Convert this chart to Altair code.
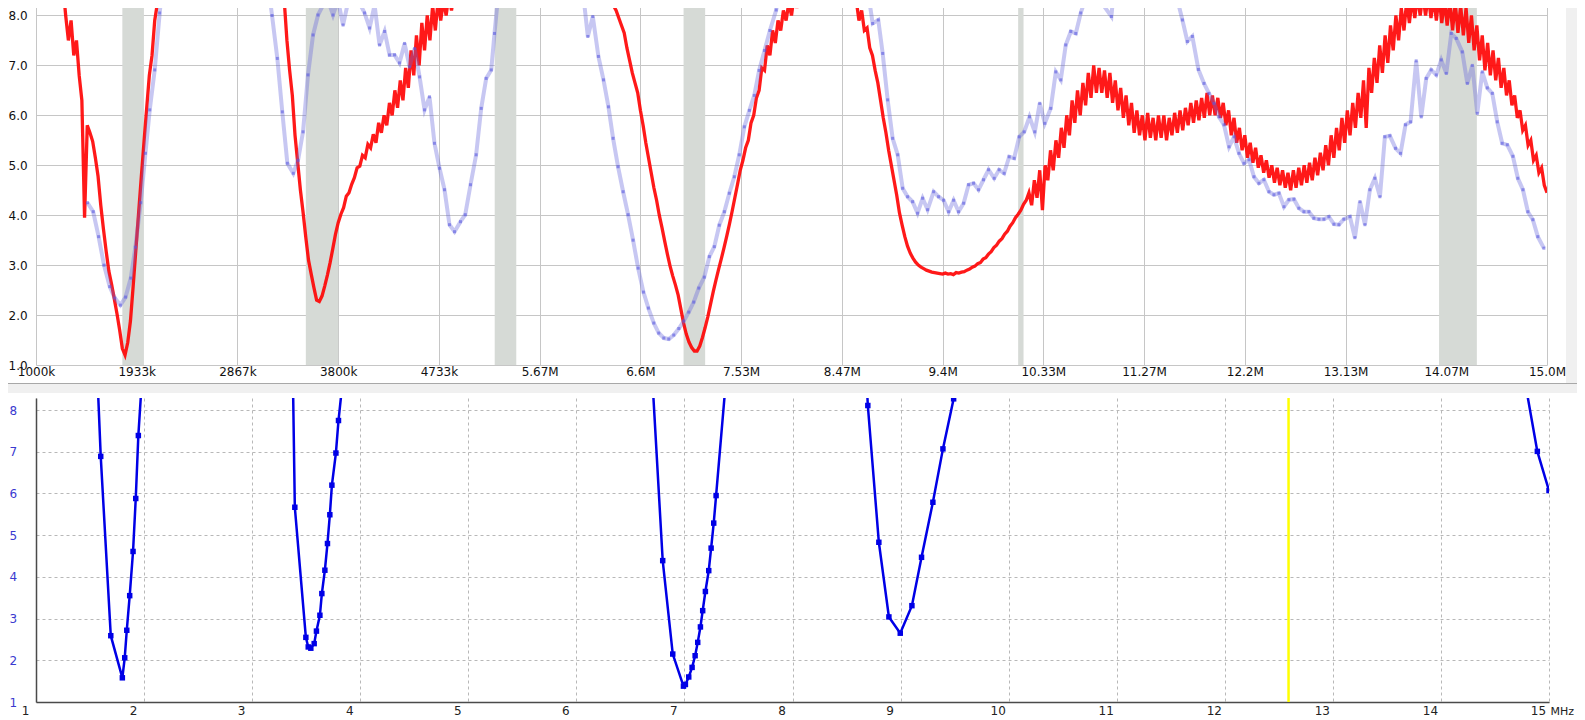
import altair as alt
import pandas as pd

# ---------------- data ----------------
top_tick_mhz = [1.0, 1.9333, 2.8667, 3.8, 4.7333, 5.6667, 6.6, 7.5333, 8.4667,
                9.4, 10.3333, 11.2667, 12.2, 13.1333, 14.0667, 15.0]
top_tick_labels = ["1000k", "1933k", "2867k", "3800k", "4733k", "5.67M", "6.6M",
                   "7.53M", "8.47M", "9.4M", "10.33M", "11.27M", "12.2M",
                   "13.13M", "14.07M", "15.0M"]
top_swr_ticks = [1, 2, 3, 4, 5, 6, 7, 8]
bot_mhz_ticks = [1, 2, 3, 4, 5, 6, 7, 8, 9, 10, 11, 12, 13, 14, 15]
bot_swr_ticks = [1, 2, 3, 4, 5, 6, 7, 8]

band_lo = [1.8, 3.5, 5.25, 7.0, 10.1, 14.0]
band_hi = [2.0, 3.8, 5.45, 7.2, 10.15, 14.35]

# red sweep (uniform 25 kHz steps), four visible stretches
red_step = 0.025
red_a_start = 1.25
red_a = [8.6, 8.0, 7.5, 7.9, 7.2, 7.5, 6.8, 6.3, 3.95, 5.8,
         5.65, 5.48, 5.15, 4.78, 4.2, 3.72, 3.28, 2.88, 2.62, 2.33,
         2.03, 1.7, 1.33, 1.2, 1.45, 1.88, 2.57, 3.3, 4.02, 4.75,
         5.45, 6.13, 6.8, 7.2, 7.9, 8.25, 8.6]
red_b_start = 3.275
red_b = [8.6, 8.3, 7.5, 6.9, 6.4, 5.6, 5.05, 4.5, 4.05, 3.55,
         3.1, 2.82, 2.55, 2.3, 2.27, 2.38, 2.58, 2.8, 3.05, 3.33,
         3.62, 3.85, 4.02, 4.15, 4.38, 4.45, 4.62, 4.75, 4.95, 4.98,
         5.2, 5.15, 5.42, 5.35, 5.62, 5.45, 5.85, 5.65, 6.0, 5.8,
         6.25, 6.0, 6.5, 6.15, 6.7, 6.3, 6.95, 6.55, 7.3, 6.8,
         7.6, 7.0, 7.85, 7.3, 8.0, 7.5, 8.2, 7.7, 8.3, 7.9,
         8.3, 8.0, 8.4, 8.1, 8.5, 8.2, 8.6]
red_c_start = 6.3
red_c = [8.6, 8.35, 8.2, 8.1, 7.95, 7.8, 7.65, 7.35, 7.1, 6.85,
         6.65, 6.45, 6.1, 5.8, 5.45, 5.15, 4.85, 4.55, 4.3, 4.0,
         3.75, 3.48, 3.22, 2.98, 2.78, 2.6, 2.4, 2.12, 1.84, 1.62,
         1.46, 1.35, 1.28, 1.28, 1.38, 1.55, 1.75, 1.97, 2.22, 2.47,
         2.7, 2.92, 3.13, 3.35, 3.58, 3.82, 4.08, 4.35, 4.62, 4.9,
         5.1, 5.35, 5.5, 5.85, 6.0, 6.35, 6.5, 6.95, 6.9, 7.4,
         7.2, 7.7, 7.45, 7.9, 7.7, 8.1, 7.9, 8.25, 8.0, 8.4,
         8.15, 8.6]
red_d_start = 8.575
red_d = [8.6, 8.3, 7.9, 8.1, 7.7, 7.75, 7.35, 7.2, 6.9, 6.65,
         6.3, 5.95, 5.65, 5.3, 5.0, 4.7, 4.4, 4.05, 3.8, 3.57,
         3.38, 3.24, 3.14, 3.06, 3.0, 2.96, 2.93, 2.9, 2.88, 2.86,
         2.85, 2.84, 2.83, 2.82, 2.84, 2.82, 2.83, 2.81, 2.85, 2.84,
         2.86, 2.87, 2.9, 2.92, 2.96, 2.98, 3.03, 3.05, 3.12, 3.15,
         3.22, 3.27, 3.35, 3.4, 3.48, 3.53, 3.62, 3.68, 3.78, 3.85,
         3.95, 4.02, 4.1, 4.22, 4.3, 4.45, 4.2, 4.7, 4.35, 4.9,
         4.1, 5.0, 4.7, 5.3, 4.9, 5.5, 5.15, 5.75, 5.35, 6.0,
         5.6, 6.3, 5.85, 6.5, 6.0, 6.65, 6.2, 6.85, 6.35, 7.0,
         6.45, 6.95, 6.45, 6.9, 6.35, 6.85, 6.25, 6.7, 6.1, 6.55,
         5.95, 6.4, 5.8, 6.25, 5.65, 6.1, 5.6, 6.0, 5.5, 6.05,
         5.55, 5.95, 5.5, 6.0, 5.55, 6.0, 5.5, 5.95, 5.6, 6.05,
         5.65, 6.1, 5.7, 6.15, 5.8, 6.25, 5.85, 6.3, 5.9, 6.35,
         5.95, 6.45, 6.0, 6.4, 6.0, 6.35, 5.95, 6.25, 5.8, 6.1,
         5.6, 5.95, 5.45, 5.75, 5.3, 5.6, 5.15, 5.45, 5.05, 5.35,
         4.95, 5.2, 4.85, 5.1, 4.75, 5.0, 4.65, 4.95, 4.6, 4.9,
         4.55, 4.85, 4.5, 4.9, 4.55, 4.95, 4.6, 5.0, 4.65, 5.05,
         4.7, 5.15, 4.8, 5.25, 4.9, 5.4, 5.0, 5.6, 5.15, 5.75,
         5.3, 5.95, 5.45, 6.1, 5.6, 6.25, 5.75, 6.45, 5.95, 6.7,
         5.75, 6.95, 6.45, 7.15, 6.65, 7.4, 6.85, 7.6, 7.05, 7.8,
         7.3, 8.0, 7.5, 8.15, 7.7, 8.3, 7.85, 8.35, 7.95, 8.4,
         8.0, 8.4, 8.0, 8.4, 7.95, 8.35, 7.9, 8.4, 7.85, 8.3,
         7.8, 8.3, 7.7, 8.25, 7.65, 8.2, 7.6, 8.15, 7.45, 8.0,
         7.3, 7.8, 7.1, 7.6, 6.9, 7.45, 6.8, 7.3, 6.7, 7.15,
         6.55, 6.95, 6.4, 6.7, 6.2, 6.4, 5.95, 6.1, 5.7, 5.8,
         5.4, 5.5, 5.1, 5.2, 4.85, 4.95, 4.6, 4.45]

# light-blue reference sweep (top panel), (MHz, SWR)
blue_top_1 = [(1.477, 4.25), (1.53, 4.07), (1.58, 3.57), (1.63, 3.0), (1.683, 2.57),
              (1.73, 2.34), (1.782, 2.2), (1.83, 2.36), (1.878, 2.74), (1.921, 3.36),
              (1.97, 4.25), (2.014, 5.24), (2.054, 6.11), (2.1, 6.91), (2.146, 8.05),
              (2.19, 9.0)]
blue_top_2 = [(3.14, 8.8), (3.187, 8.0), (3.236, 7.14), (3.282, 6.07), (3.329, 5.04),
              (3.384, 4.84), (3.428, 5.1), (3.474, 5.67), (3.52, 6.81), (3.567, 7.61),
              (3.613, 8.01), (3.66, 8.21), (3.705, 8.31), (3.752, 8.01), (3.798, 8.31),
              (3.845, 7.81), (3.9, 8.35), (3.952, 8.24), (3.998, 8.25), (4.044, 8.05),
              (4.091, 7.75), (4.137, 8.21), (4.183, 7.41), (4.23, 7.68), (4.276, 7.21),
              (4.322, 7.21), (4.368, 7.05), (4.415, 7.44), (4.461, 6.97), (4.508, 7.34),
              (4.554, 6.77), (4.6, 6.11), (4.646, 6.37), (4.692, 5.44), (4.739, 4.94),
              (4.785, 4.51), (4.831, 3.81), (4.878, 3.67), (4.933, 3.87), (4.977, 4.01),
              (5.026, 4.61), (5.078, 5.21), (5.125, 6.14), (5.171, 6.74), (5.218, 6.91),
              (5.248, 7.64), (5.30, 8.8)]
blue_top_3 = [(6.05, 8.9), (6.076, 8.31), (6.113, 7.58), (6.159, 7.98), (6.211, 7.18),
              (6.258, 6.71), (6.304, 6.17), (6.347, 5.54), (6.393, 4.97), (6.44, 4.47),
              (6.486, 4.01), (6.532, 3.5), (6.579, 2.94), (6.628, 2.46), (6.674, 2.14),
              (6.724, 1.84), (6.77, 1.64), (6.817, 1.54), (6.863, 1.52), (6.909, 1.6),
              (6.956, 1.73), (7.002, 1.88), (7.048, 2.06), (7.094, 2.26), (7.141, 2.54),
              (7.192, 2.76), (7.239, 3.17), (7.285, 3.37), (7.331, 3.8), (7.378, 4.07),
              (7.424, 4.44), (7.47, 4.77), (7.516, 5.21), (7.563, 5.77), (7.61, 6.1),
              (7.655, 6.4), (7.70, 6.9), (7.75, 7.3), (7.80, 7.7), (7.858, 8.11),
              (7.90, 8.6)]
blue_top_4 = [(8.70, 8.8), (8.72, 8.31), (8.752, 7.84), (8.804, 7.91), (8.845, 7.24),
              (8.891, 6.31), (8.937, 5.54), (8.984, 5.21), (9.03, 4.54), (9.076, 4.37),
              (9.122, 4.27), (9.168, 4.04), (9.215, 4.34), (9.261, 4.11), (9.317, 4.47),
              (9.363, 4.37), (9.409, 4.3), (9.456, 4.07), (9.502, 4.3), (9.548, 4.07),
              (9.595, 4.24), (9.641, 4.61), (9.687, 4.64), (9.733, 4.51), (9.779, 4.71),
              (9.826, 4.91), (9.878, 4.74), (9.924, 4.91), (9.97, 4.84), (10.017, 5.17),
              (10.063, 5.14), (10.11, 5.57), (10.156, 5.67), (10.205, 5.97), (10.254, 5.67),
              (10.3, 6.24), (10.347, 5.84), (10.402, 6.14), (10.449, 6.87), (10.495, 6.71),
              (10.541, 7.41), (10.588, 7.68), (10.634, 7.64), (10.68, 8.05), (10.726, 8.35),
              (10.773, 8.28), (10.82, 8.35), (10.865, 8.28), (10.964, 7.98), (10.99, 8.6)]
blue_top_5 = [(11.55, 8.8), (11.576, 8.31), (11.622, 7.91), (11.668, 7.48), (11.714, 7.58),
              (11.77, 6.92), (11.822, 6.64), (11.868, 6.44), (11.915, 6.24), (11.961, 5.97),
              (12.007, 5.81), (12.054, 5.37), (12.1, 5.57), (12.146, 5.24), (12.192, 5.04),
              (12.239, 5.11), (12.285, 4.77), (12.331, 4.64), (12.377, 4.71), (12.424, 4.47),
              (12.47, 4.41), (12.516, 4.44), (12.563, 4.17), (12.609, 4.31), (12.655, 4.32),
              (12.701, 4.14), (12.748, 4.07), (12.794, 4.07), (12.84, 3.94), (12.887, 3.92),
              (12.933, 3.92), (12.979, 3.97), (13.026, 3.82), (13.072, 3.81), (13.118, 3.92),
              (13.174, 3.97), (13.22, 3.55), (13.267, 4.27), (13.313, 3.81), (13.359, 4.51),
              (13.405, 4.74), (13.452, 4.37), (13.498, 5.57), (13.544, 5.59), (13.597, 5.34),
              (13.643, 5.24), (13.689, 5.81), (13.736, 5.87), (13.788, 7.09), (13.835, 5.97),
              (13.881, 6.74), (13.927, 6.91), (13.974, 6.81), (14.02, 7.11), (14.067, 6.84),
              (14.113, 7.64), (14.159, 7.54), (14.215, 7.27), (14.262, 6.64), (14.308, 7.0),
              (14.354, 6.04), (14.4, 6.87), (14.447, 6.55), (14.493, 6.44), (14.539, 5.87),
              (14.585, 5.44), (14.632, 5.41), (14.684, 5.18), (14.73, 4.74), (14.777, 4.51),
              (14.823, 4.07), (14.869, 3.91), (14.915, 3.57), (14.971, 3.34)]

# bottom panel analyser sweep (MHz, SWR)
bot_seg_1 = [(1.55, 9.94), (1.599, 6.89), (1.692, 2.59), (1.799, 1.58), (1.821, 2.06),
             (1.840, 2.72), (1.867, 3.55), (1.898, 4.61), (1.923, 5.88), (1.947, 7.39),
             (2.0, 9.54)]
bot_seg_2 = [(3.37, 10.0), (3.395, 5.67), (3.497, 2.55), (3.519, 2.32), (3.543, 2.29),
             (3.574, 2.40), (3.595, 2.70), (3.627, 3.08), (3.645, 3.60), (3.673, 4.16),
             (3.697, 4.80), (3.719, 5.49), (3.738, 6.20), (3.775, 6.97), (3.799, 7.75),
             (3.85, 9.0)]
bot_seg_3 = [(6.69, 9.35), (6.799, 4.39), (6.892, 2.15), (6.991, 1.38), (7.009, 1.42),
             (7.040, 1.60), (7.071, 1.83), (7.099, 2.11), (7.123, 2.43), (7.148, 2.80),
             (7.169, 3.19), (7.194, 3.65), (7.225, 4.15), (7.247, 4.69), (7.271, 5.29),
             (7.293, 5.95), (7.40, 9.2)]
bot_seg_4 = [(8.68, 9.0), (8.697, 8.11), (8.799, 4.83), (8.892, 3.04), (8.997, 2.65),
             (9.105, 3.31), (9.194, 4.47), (9.299, 5.79), (9.392, 7.07), (9.491, 8.27),
             (9.52, 9.0)]
bot_seg_5 = [(14.78, 8.65), (14.892, 7.01), (15.0, 6.07)]
marker_mhz = [12.59]

# ---------------- tables ----------------
red_rows = []
for seg, (start, vals) in enumerate([(red_a_start, red_a), (red_b_start, red_b),
                                     (red_c_start, red_c), (red_d_start, red_d)]):
    for i, v in enumerate(vals):
        red_rows.append({"f": round(start + i * red_step, 4), "v": v, "seg": seg})
red_df = pd.DataFrame(red_rows)


def pairs_df(segments):
    rows = []
    for seg, pts in enumerate(segments):
        for f, v in pts:
            rows.append({"f": f, "v": v, "seg": seg})
    return pd.DataFrame(rows)


blue_top_df = pairs_df([blue_top_1, blue_top_2, blue_top_3, blue_top_4, blue_top_5])
bot_df = pairs_df([bot_seg_1, bot_seg_2, bot_seg_3, bot_seg_4, bot_seg_5])
bands_df = pd.DataFrame({"f": band_lo, "f2": band_hi})
marker_df = pd.DataFrame({"f": marker_mhz})

# window chrome (panel separator / frame), in data units of each panel
top_decor = pd.DataFrame({
    "f": [0.6665, 0.6665, 15.176],
    "f2": [15.352, 15.352, 15.352],
    "v": [0.6395, 0.6195, 8.31],
    "v2": [0.6195, 0.4392, 0.6395],
    "c": ["#a8a8a8", "#f0f0f0", "#f0f0f0"],
})
bot_decor = pd.DataFrame({
    "f": [0.6669, 0.6669],
    "f2": [15.333, 15.333],
    "v": [0.6163, 0.5683],
    "v2": [0.5683, 0.4964],
    "c": ["#b4b4b4", "#f0f0f0"],
})

# ---------------- top panel ----------------
FONT = "DejaVu Sans"
xt = alt.Scale(domain=[1, 15], nice=False, zero=False)
yt = alt.Scale(domain=[1, 8.31], nice=False, zero=False)
label_expr = ("[" + ",".join("'%s'" % s for s in top_tick_labels) +
              "][round((datum.value - 1) * 15 / 14)]")
top_xaxis = alt.Axis(values=top_tick_mhz, labelExpr=label_expr, title=None, grid=True,
                     gridColor="#c6c6c6", ticks=False, domain=False, labelFlush=False,
                     labelOverlap=False, labelPadding=1, labelFont=FONT, labelFontSize=12,
                     labelColor="#111111", minExtent=14, maxExtent=14)
top_yaxis = alt.Axis(values=top_swr_ticks, format=".1f", title=None, grid=True,
                     gridColor="#c6c6c6", ticks=False, domain=False, labelAlign="left",
                     labelPadding=28, labelFont=FONT, labelFontSize=12, labelColor="#111111",
                     labelOverlap=False, minExtent=36, maxExtent=36)


def XT(field):
    return alt.X(field, type="quantitative", scale=xt, axis=top_xaxis)


def YT(field):
    return alt.Y(field, type="quantitative", scale=yt, axis=top_yaxis)


t_decor = alt.Chart(top_decor).mark_rect(clip=False).encode(
    x=XT("f"), x2="f2", y=YT("v"), y2="v2", color=alt.Color("c:N", scale=None))
t_bands = alt.Chart(bands_df).mark_rect(color="#d6dad6").encode(x=XT("f"), x2="f2")
t_red = alt.Chart(red_df).mark_line(color="#ff0000", strokeWidth=3.3, opacity=0.9,
                                    clip=True).encode(x=XT("f"), y=YT("v"), detail="seg:N")
t_blue = alt.Chart(blue_top_df).mark_line(color="#6464dc", strokeWidth=4, opacity=0.36,
                                          clip=True).encode(x=XT("f"), y=YT("v"), detail="seg:N")
t_blue_pts = alt.Chart(blue_top_df).mark_square(size=9, color="#5a5ae0", opacity=0.6,
                                                clip=True).encode(x=XT("f"), y=YT("v"))

top = alt.layer(t_decor, t_bands, t_red, t_blue, t_blue_pts).properties(width=1511, height=365)

# ---------------- bottom panel ----------------
xb = alt.Scale(domain=[1, 15], nice=False, zero=False)
yb = alt.Scale(domain=[1, 8.29], nice=False, zero=False)
bot_xaxis = alt.Axis(values=bot_mhz_ticks, format="d", title="MHz", grid=True,
                     gridColor="#b8b8b8", gridDash=[3, 3], ticks=False, domain=True,
                     domainColor="#4a4a4a", domainWidth=1.5, labelOffset=-11, labelPadding=3,
                     labelFlush=False, labelOverlap=False, labelFont=FONT, labelFontSize=12,
                     labelColor="#222222", titleX=1514, titleY=3, titleAlign="left",
                     titleBaseline="top", titleFont=FONT, titleFontSize=11,
                     titleFontWeight="normal", titleColor="#222222")
bot_yaxis = alt.Axis(values=bot_swr_ticks, format="d", title=None, grid=True,
                     gridColor="#b8b8b8", gridDash=[3, 3], ticks=False, domain=True,
                     domainColor="#4a4a4a", domainWidth=1.5, labelAlign="left",
                     labelPadding=27, labelFont=FONT, labelFontSize=12, labelColor="#3a3ad0",
                     labelOverlap=False, minExtent=36, maxExtent=36)


def XB(field):
    return alt.X(field, type="quantitative", scale=xb, axis=bot_xaxis)


def YB(field):
    return alt.Y(field, type="quantitative", scale=yb, axis=bot_yaxis)


b_decor = alt.Chart(bot_decor).mark_rect(clip=False).encode(
    x=XB("f"), x2="f2", y=YB("v"), y2="v2", color=alt.Color("c:N", scale=None))
b_marker = alt.Chart(marker_df).mark_rule(color="#ffff00", strokeWidth=2.5).encode(x=XB("f"))
b_line = alt.Chart(bot_df).mark_line(color="#0000e6", strokeWidth=2.5, clip=True).encode(
    x=XB("f"), y=YB("v"), detail="seg:N")
b_pts = alt.Chart(bot_df).mark_square(size=30, color="#0000e6", opacity=1, clip=True).encode(
    x=XB("f"), y=YB("v"))

bottom = alt.layer(b_decor, b_marker, b_line, b_pts).properties(width=1513, height=304)

chart = alt.vconcat(top, bottom, spacing=2).properties(
    padding={"left": -8, "top": -8, "right": -8, "bottom": -8},
    background="white",
).configure_view(stroke=None)

chart.save("out.html", embed_options={"renderer": "svg", "actions": False})
